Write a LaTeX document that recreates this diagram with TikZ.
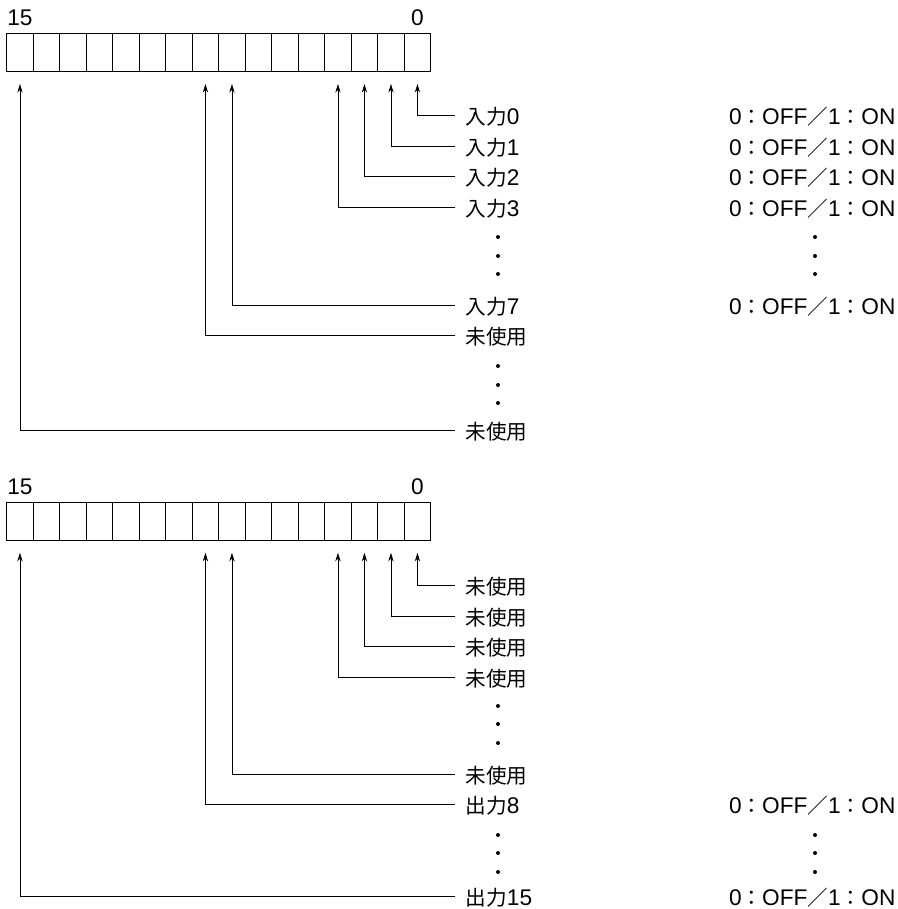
\documentclass[tikz,border=0pt]{standalone}
\usepackage{fontspec}
\setmainfont{Liberation Sans}
\newfontfamily\cjk[Scale=0.91]{Noto Sans CJK JP}
\usetikzlibrary{arrows.meta, positioning}
\tikzset{
  cellnode/.style={
    rectangle, draw=black, line width=0.75pt,
    minimum width=19.875pt, minimum height=28.8pt,
    inner sep=0pt, outer sep=0pt
  },
  numnode/.style={
    anchor=base, yshift=5.5pt, inner sep=0pt,
    font=\fontsize{17}{20}\selectfont
  },
  labelnode/.style={
    anchor=west, inner xsep=8pt, inner ysep=0pt, outer sep=0pt,
    text height=16pt, text depth=1.8pt,
    font=\fontsize{17}{20}\selectfont
  },
  statenode/.style={labelnode, inner xsep=0pt},
  myarrow/.style={line width=0.65pt, -{Stealth[length=6.5pt, width=4pt]}}
}
\newcommand{\onoff}{0{\cjk ：}OFF{\cjk ／}1{\cjk ：}ON}

\begin{document}
\begin{tikzpicture}[x=0.75pt, y=-0.75pt]
  \useasboundingbox (0,0) rectangle (897,909);

  %% — — — Upper register: inputs — — —
  \foreach \i in {0,...,15}
    \node[cellnode] (a\i) at ({430.7-26.5*(\i+0.5)}, 52.5) {};
  \node[numnode] at (a15.north) {15};
  \node[numnode] at (a0.north) {0};

  \node[labelnode] (in0)  at (455,115) {{\cjk 入力}0};
  \node[labelnode] (in1)  at (455,146) {{\cjk 入力}1};
  \node[labelnode] (in2)  at (455,176) {{\cjk 入力}2};
  \node[labelnode] (in3)  at (455,207) {{\cjk 入力}3};
  \node[labelnode] (in7)  at (455,305) {{\cjk 入力}7};
  \node[labelnode] (ua8)  at (455,335) {\cjk 未使用};
  \node[labelnode] (ua15) at (455,430) {\cjk 未使用};

  \node[statenode] (st0) at (729,115) {\onoff};
  \node[statenode] (st1) at (729,146) {\onoff};
  \node[statenode] (st2) at (729,176) {\onoff};
  \node[statenode] (st3) at (729,207) {\onoff};
  \node[statenode] (st7) at (729,305) {\onoff};

  \foreach \y in {237,256,274} {
    \fill (498,\y) circle[radius=1.5pt];
    \fill (815,\y) circle[radius=1.5pt];
  }
  \foreach \y in {366,385,403}
    \fill (498,\y) circle[radius=1.5pt];

  \draw[myarrow] (in0.west)  -| ([yshift=-9.2pt]a0.south);
  \draw[myarrow] (in1.west)  -| ([yshift=-9.2pt]a1.south);
  \draw[myarrow] (in2.west)  -| ([yshift=-9.2pt]a2.south);
  \draw[myarrow] (in3.west)  -| ([yshift=-9.2pt]a3.south);
  \draw[myarrow] (in7.west)  -| ([yshift=-9.2pt]a7.south);
  \draw[myarrow] (ua8.west)  -| ([yshift=-9.2pt]a8.south);
  \draw[myarrow] (ua15.west) -| ([yshift=-9.2pt]a15.south);

  %% — — — Lower register: outputs — — —
  \foreach \i in {0,...,15}
    \node[cellnode] (b\i) at ({430.7-26.5*(\i+0.5)}, 521.3) {};
  \node[numnode] at (b15.north) {15};
  \node[numnode] at (b0.north) {0};

  \node[labelnode] (ub0)   at (455,585) {\cjk 未使用};
  \node[labelnode] (ub1)   at (455,616) {\cjk 未使用};
  \node[labelnode] (ub2)   at (455,646) {\cjk 未使用};
  \node[labelnode] (ub3)   at (455,677) {\cjk 未使用};
  \node[labelnode] (ub7)   at (455,774) {\cjk 未使用};
  \node[labelnode] (out8)  at (455,804) {{\cjk 出力}8};
  \node[labelnode] (out15) at (455,896) {{\cjk 出力}15};

  \node[statenode] (st8)  at (729,804) {\onoff};
  \node[statenode] (st15) at (729,896) {\onoff};

  \foreach \y in {706,724,743}
    \fill (498,\y) circle[radius=1.5pt];
  \foreach \y in {835,853,872} {
    \fill (498,\y) circle[radius=1.5pt];
    \fill (815,\y) circle[radius=1.5pt];
  }

  \draw[myarrow] (ub0.west)   -| ([yshift=-9.2pt]b0.south);
  \draw[myarrow] (ub1.west)   -| ([yshift=-9.2pt]b1.south);
  \draw[myarrow] (ub2.west)   -| ([yshift=-9.2pt]b2.south);
  \draw[myarrow] (ub3.west)   -| ([yshift=-9.2pt]b3.south);
  \draw[myarrow] (ub7.west)   -| ([yshift=-9.2pt]b7.south);
  \draw[myarrow] (out8.west)  -| ([yshift=-9.2pt]b8.south);
  \draw[myarrow] (out15.west) -| ([yshift=-9.2pt]b15.south);

\end{tikzpicture}
\end{document}
